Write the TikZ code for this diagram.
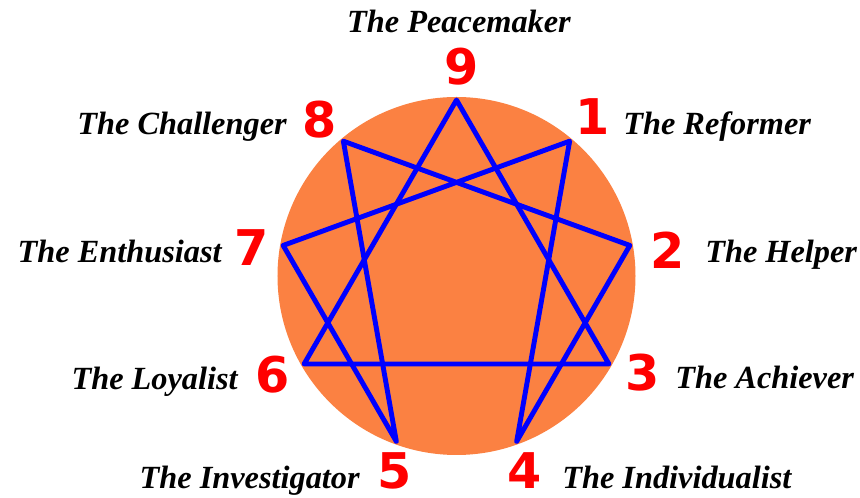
\documentclass[tikz,border=0pt]{standalone}
\usepackage{fontspec}
\setmainfont{Liberation Serif}
\newfontfamily\digitfont{DejaVu Sans}
\definecolor{enneaorange}{RGB}{251,129,66}
\definecolor{enneablue}{RGB}{0,0,255}
\definecolor{enneared}{RGB}{255,0,0}

\begin{document}
\begin{tikzpicture}[x=0.025cm, y=0.025cm,
    num/.style={text=enneared, font=\digitfont\bfseries\fontsize{35}{35}\selectfont, inner sep=0pt},
    tag/.style={font=\bfseries\itshape\fontsize{23}{26}\selectfont, inner sep=0pt},
    line/.style={enneablue, line width=3.5pt, line join=round}]
    \useasboundingbox (-456.5,-222) rectangle (403.5,276);

    \fill[enneaorange] (0,0) circle (179);

    \foreach \k in {1,...,9}
        \coordinate (p\k) at ({90-40*\k}:176);

    % triangle and hexad
    \draw[line] (p9) -- (p3) -- (p6) -- cycle;
    \draw[line] (p1) -- (p4) -- (p2) -- (p8) -- (p5) -- (p7) -- cycle;

    \foreach \k/\x/\y in {9/5.5/209, 1/136.5/159, 2/211.5/26, 3/186.5/-97, 4/68.5/-195,
                          5/-61.5/-195, 6/-183.5/-99, 7/-204.5/28, 8/-136.5/156}
        \node[num] (n\k) at (\x,\y) {\k};

    \node[tag, anchor=base] (l9) at (2.5,243) {The Peacemaker};
    \node[tag, anchor=base west] (l1) at (166.5,141) {The Reformer};
    \node[tag, anchor=base west] (l2) at (248.5,13) {The Helper};
    \node[tag, anchor=base west] (l3) at (218.5,-113) {The Achiever};
    \node[tag, anchor=base west] (l4) at (105.5,-212) {The Individualist};
    \node[tag, anchor=base east] (l5) at (-96.5,-212) {The Investigator};
    \node[tag, anchor=base east] (l6) at (-218.5,-114) {The Loyalist};
    \node[tag, anchor=base east] (l7) at (-234.5,13) {The Enthusiast};
    \node[tag, anchor=base east] (l8) at (-169.5,141) {The Challenger};
\end{tikzpicture}
\end{document}
